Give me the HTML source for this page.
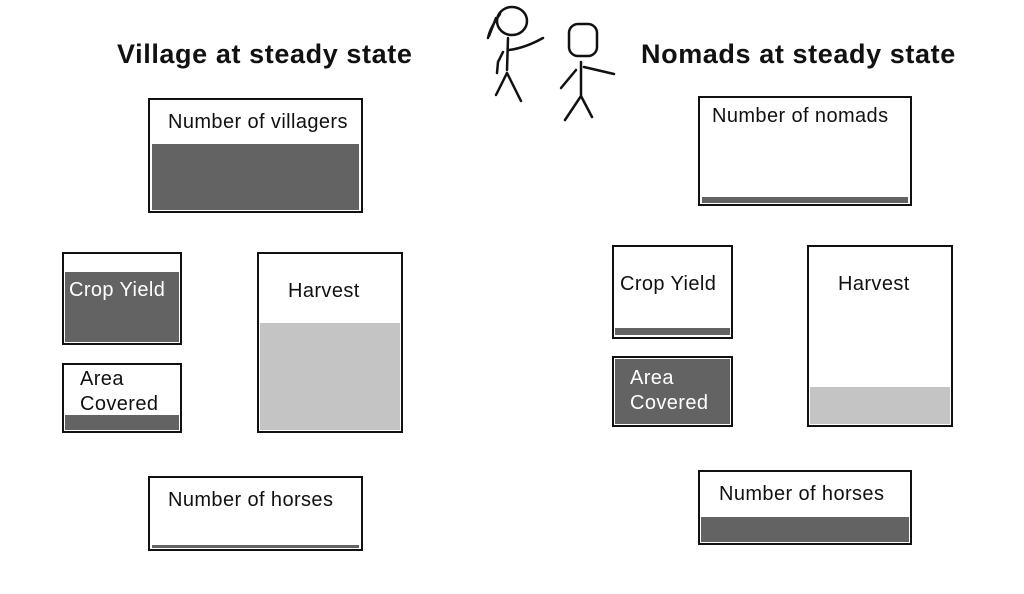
<!DOCTYPE html>
<html><head><style>
body{margin:0;width:1024px;height:594px;background:#fff;position:relative;overflow:hidden;font-family:"Liberation Sans",sans-serif}
.b{position:absolute;border:2px solid #111;box-sizing:border-box;background:#fff}
.f{position:absolute;box-sizing:border-box}
.d{background:#636363}.l{background:#c4c4c4}
.t{position:absolute;font-size:20px;letter-spacing:0.4px;color:#111;white-space:nowrap}
.w{color:#fff}
h1{position:absolute;margin:0;font-size:27px;letter-spacing:0.6px;font-weight:bold;color:#111;white-space:nowrap}
</style></head><body>
<h1 style="left:117px;top:39px">Village at steady state</h1>
<h1 style="left:641px;top:39px">Nomads at steady state</h1>
<svg style="position:absolute;left:0;top:0" width="1024" height="594" fill="none" stroke="#111" stroke-width="2.5" stroke-linecap="round">
<ellipse cx="512" cy="21" rx="15" ry="14"/>
<path d="M500 14 Q490 28 488 38 M496 18 L489 36"/>
<path d="M508 38 L507 70 M509 50 Q525 48 543 38 M503 52 L498 62 L497 73 M507 73 L496 95 M507 73 L521 101"/>
<rect x="569" y="24" width="28" height="32" rx="9"/>
<path d="M581 62 L581 96 M576 70 L561 88 M584 67 L614 74 M581 96 L565 120 M581 96 L592 117"/>
</svg>
<div class="b" style="left:148px;top:98px;width:215px;height:115px"></div>
<div class="f d" style="left:152px;top:144px;width:207px;height:66px"></div>
<div class="t" style="left:168px;top:111px">Number of villagers</div>
<div class="b" style="left:62px;top:252px;width:120px;height:93px"></div>
<div class="f d" style="left:65px;top:272px;width:114px;height:70px"></div>
<div class="t w" style="left:69px;top:279px">Crop Yield</div>
<div class="b" style="left:62px;top:363px;width:120px;height:70px"></div>
<div class="f d" style="left:65px;top:415px;width:114px;height:15px"></div>
<div class="t" style="left:80px;top:367px;line-height:25px">Area<br>Covered</div>
<div class="b" style="left:257px;top:252px;width:146px;height:181px"></div>
<div class="f l" style="left:260px;top:323px;width:140px;height:107px"></div>
<div class="t" style="left:288px;top:280px">Harvest</div>
<div class="b" style="left:148px;top:476px;width:215px;height:75px"></div>
<div class="f d" style="left:152px;top:545px;width:207px;height:3px"></div>
<div class="t" style="left:168px;top:489px">Number of horses</div>

<div class="b" style="left:698px;top:96px;width:214px;height:110px"></div>
<div class="f d" style="left:702px;top:197px;width:206px;height:6px"></div>
<div class="t" style="left:712px;top:105px">Number of nomads</div>
<div class="b" style="left:612px;top:245px;width:121px;height:94px"></div>
<div class="f d" style="left:615px;top:328px;width:115px;height:7px"></div>
<div class="t" style="left:620px;top:273px">Crop Yield</div>
<div class="b" style="left:612px;top:356px;width:121px;height:71px"></div>
<div class="f d" style="left:615px;top:359px;width:115px;height:65px"></div>
<div class="t w" style="left:630px;top:366px;line-height:25px">Area<br>Covered</div>
<div class="b" style="left:807px;top:245px;width:146px;height:182px"></div>
<div class="f l" style="left:810px;top:387px;width:140px;height:37px"></div>
<div class="t" style="left:838px;top:273px">Harvest</div>
<div class="b" style="left:698px;top:470px;width:214px;height:75px"></div>
<div class="f d" style="left:701px;top:517px;width:208px;height:25px"></div>
<div class="t" style="left:719px;top:483px">Number of horses</div>
</body></html>
